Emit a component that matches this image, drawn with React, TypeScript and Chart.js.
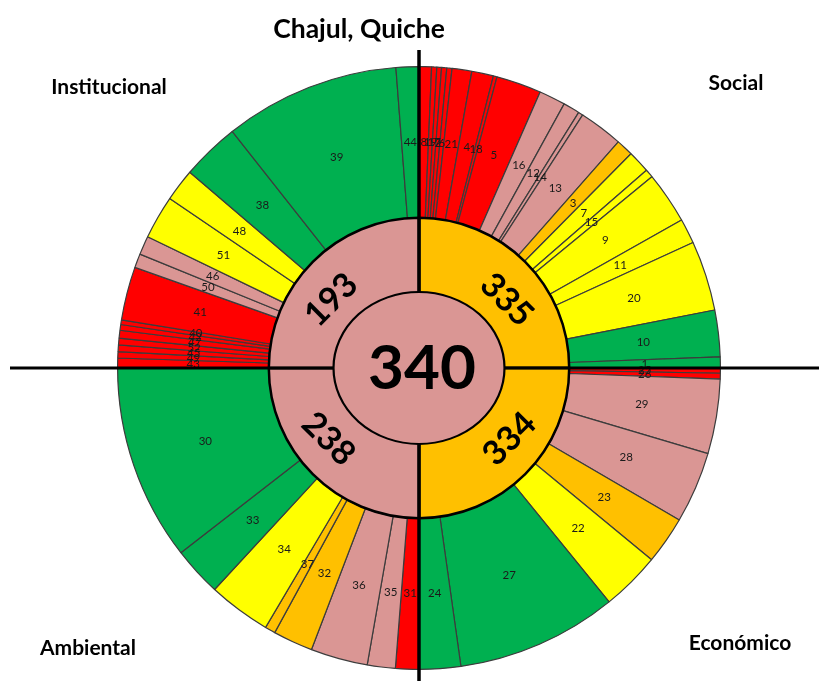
import React, { useEffect, useRef } from "react";
import { Chart, registerables } from "chart.js";

Chart.register(...registerables);

// ---- data ----
const chartTitle = "Chajul, Quiche";
const grandTotal = 340;
const quadrantNames = ["Social", "Económico", "Ambiental", "Institucional"];
const quadrantTotals = [335, 334, 238, 193];
const quadrantStatus = ["o", "o", "p", "p"];

// shares are the angular share (degrees) of each indicator inside its 90° quadrant
const socialIds = ["8", "19", "17", "2", "6", "21", "4", "18", "5", "16", "12", "14", "13", "3", "7", "15", "9", "11", "20", "10", "1"];
const socialShares = [2.4, 1.0, 0.9, 1.0, 1.0, 3.8, 4.2, 0.7, 8.7, 5.1, 3.2, 0.9, 8.5, 3.3, 4.3, 1.6, 10.0, 4.8, 13.5, 9.0, 2.1];
const socialStatus = ["r", "r", "r", "r", "r", "r", "r", "r", "r", "p", "p", "p", "p", "o", "y", "y", "y", "y", "y", "g", "g"];

const economicoIds = ["25", "26", "29", "28", "23", "22", "27", "24"];
const economicoShares = [1.0, 1.1, 14.4, 13.8, 9.2, 11.4, 31.1, 8.0];
const economicoStatus = ["r", "r", "p", "p", "o", "y", "g", "g"];

const ambientalIds = ["31", "35", "36", "32", "37", "34", "33", "30"];
const ambientalShares = [4.5, 5.4, 11.0, 7.7, 2.0, 12.1, 9.5, 37.8];
const ambientalStatus = ["r", "p", "p", "o", "o", "y", "g", "g"];

const institucionalIds = ["43", "49", "45", "52", "47", "42", "40", "41", "50", "46", "51", "48", "38", "39", "44"];
const institucionalShares = [1.9, 1.2, 1.3, 1.3, 1.5, 1.1, 0.9, 10.3, 2.7, 3.6, 8.4, 6.3, 11.2, 33.9, 4.4];
const institucionalStatus = ["r", "r", "r", "r", "r", "r", "r", "r", "p", "p", "y", "y", "g", "g", "g"];

const statusColors: Record<string, string> = {
  r: "#FF0000",
  p: "#DA9694",
  o: "#FFC000",
  y: "#FFFF00",
  g: "#00B050",
};

const outerIds = [...socialIds, ...economicoIds, ...ambientalIds, ...institucionalIds];
const outerShares = [...socialShares, ...economicoShares, ...ambientalShares, ...institucionalShares];
const outerStatus = [...socialStatus, ...economicoStatus, ...ambientalStatus, ...institucionalStatus];

const FONT = "Lato, 'Open Sans', 'DejaVu Sans', sans-serif";

const sunburstPlugin = {
  id: "sunburst",
  beforeDatasetDraw(chart: any, args: any) {
    if (args.index !== 2) return;
    const ctx = chart.ctx;
    const arc = chart.getDatasetMeta(2).data[0];
    const cx = arc.x;
    const cy = arc.y;
    ctx.save();
    ctx.strokeStyle = "#000";
    ctx.lineWidth = 3.5;
    ctx.beginPath();
    ctx.moveTo(cx, 50);
    ctx.lineTo(cx, chart.height);
    ctx.stroke();
    ctx.lineWidth = 3;
    ctx.beginPath();
    ctx.moveTo(10, cy);
    ctx.lineTo(chart.width, cy);
    ctx.stroke();
    ctx.restore();
    // center disc is drawn as an ellipse
    ctx.save();
    ctx.translate(cx, cy);
    ctx.scale(85.5 / arc.outerRadius, 76 / arc.outerRadius);
    ctx.translate(-cx, -cy);
  },
  afterDatasetDraw(chart: any, args: any) {
    const ctx = chart.ctx;
    if (args.index === 0) {
      const meta = chart.getDatasetMeta(0);
      ctx.save();
      ctx.font = `11.5px ${FONT}`;
      ctx.fillStyle = "#1a1a1a";
      ctx.textAlign = "center";
      ctx.textBaseline = "middle";
      meta.data.forEach((el: any, i: number) => {
        const p = el.tooltipPosition();
        ctx.fillText(outerIds[i], p.x, p.y);
      });
      ctx.restore();
    }
    if (args.index === 2) {
      const arc = chart.getDatasetMeta(2).data[0];
      ctx.beginPath();
      ctx.arc(arc.x, arc.y, arc.outerRadius, 0, Math.PI * 2);
      ctx.lineWidth = 1.8;
      ctx.strokeStyle = "#000";
      ctx.stroke();
      ctx.restore();
    }
  },
  afterDatasetsDraw(chart: any) {
    const ctx = chart.ctx;
    const meta = chart.getDatasetMeta(1);
    ctx.save();
    ctx.fillStyle = "#000";
    ctx.textAlign = "center";
    ctx.textBaseline = "middle";
    ctx.font = `bold 34px ${FONT}`;
    meta.data.forEach((el: any, i: number) => {
      const mid = (el.startAngle + el.endAngle) / 2; // canvas angle
      const theta = mid + Math.PI / 2; // clockwise from top
      const shift = ((i % 2 === 0 ? 7 : -7) * Math.PI) / 180;
      const t2 = theta + shift;
      const r = 113;
      const x = el.x + r * Math.sin(t2);
      const y = el.y - r * Math.cos(t2);
      let rot = theta;
      if (Math.sin(mid) > 0) rot -= Math.PI;
      ctx.save();
      ctx.translate(x, y);
      ctx.rotate(rot);
      ctx.fillText(String(quadrantTotals[i]), 0, 2);
      ctx.restore();
    });
    const c = chart.getDatasetMeta(2).data[0];
    ctx.font = `bold 62px ${FONT}`;
    ctx.fillText(String(grandTotal), c.x + 3, c.y + 1);
    ctx.restore();
  },
};

export default function App() {
  const canvasRef = useRef<HTMLCanvasElement | null>(null);

  useEffect(() => {
    const canvas = canvasRef.current;
    if (!canvas) return;
    const chart = new Chart(canvas, {
      type: "doughnut",
      data: {
        labels: outerIds,
        datasets: [
          {
            data: outerShares,
            backgroundColor: outerStatus.map((s) => statusColors[s]),
            borderColor: "#3c3c3c",
            borderWidth: 1.2,
            hoverBorderWidth: 1.2,
            weight: 151,
            order: 2,
            clip: false,
          } as any,
          {
            data: quadrantTotals.map(() => 90),
            backgroundColor: quadrantStatus.map((s) => statusColors[s]),
            borderColor: "#000",
            borderWidth: 2.5,
            hoverBorderWidth: 2.5,
            weight: 80,
            order: 1,
            clip: false,
          } as any,
          {
            data: [grandTotal],
            backgroundColor: [statusColors.p],
            borderWidth: 0,
            hoverBorderWidth: 0,
            weight: 70,
            order: 0,
            clip: false,
          } as any,
        ],
      },
      options: {
        responsive: false,
        animation: false,
        events: [],
        cutout: 0,
        rotation: 0,
        circumference: 360,
        hoverOffset: 0,
        offset: 0,
        layout: { padding: { left: 117, right: 98, top: 66, bottom: 11 } },
        plugins: {
          legend: { display: false },
          tooltip: { enabled: false },
          title: { display: false },
        },
      } as any,
      plugins: [sunburstPlugin],
    });
    return () => chart.destroy();
  }, []);

  const labelStyle = (x: number, y: number, size: number): React.CSSProperties => ({
    position: "absolute",
    left: x,
    top: y,
    transform: "translate(-50%, -50%)",
    fontFamily: FONT,
    fontWeight: 700,
    fontSize: size,
    color: "#000",
    whiteSpace: "nowrap",
    lineHeight: 1,
  });

  return (
    <div style={{ position: "absolute", left: 0, top: 0, width: 819, height: 681, background: "#fff", overflow: "hidden" }}>
      <canvas ref={canvasRef} width={819} height={681} style={{ display: "block", width: 819, height: 681 }} />
      <div style={labelStyle(359, 28, 26.5)}>{chartTitle}</div>
      <div style={labelStyle(109, 85, 21)}>{quadrantNames[3]}</div>
      <div style={labelStyle(736, 81, 21)}>{quadrantNames[0]}</div>
      <div style={labelStyle(88, 646, 21)}>{quadrantNames[2]}</div>
      <div style={labelStyle(740, 641, 21)}>{quadrantNames[1]}</div>
    </div>
  );
}
